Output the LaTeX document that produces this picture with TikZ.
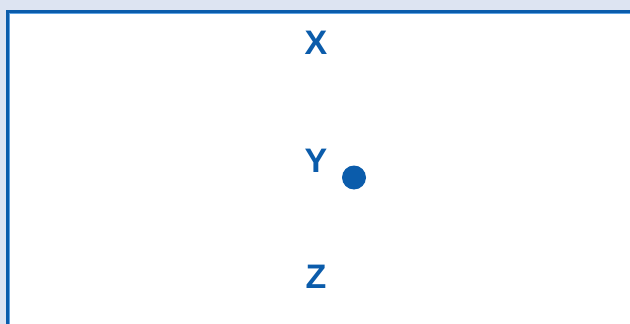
\documentclass[tikz,border=0pt]{standalone}
\usepackage{fontspec}
\setmainfont{Liberation Sans}
\definecolor{bg}{HTML}{DDE4F2}
\definecolor{mainblue}{HTML}{0B5CAB}
\definecolor{lightblue}{HTML}{5FA3E3}
\begin{document}
\begin{tikzpicture}[x=1pt,y=-1pt,
  lbl/.style={anchor=base,inner sep=0pt,text=mainblue,font=\fontsize{34}{34}\selectfont\bfseries}]
\useasboundingbox (0,0) rectangle (630,324);
\fill[bg] (0,0) rectangle (630,324);
\fill[white] (6,10) rectangle (640,334);
\draw[lightblue,line width=1pt] (9.5,340) -- (9.5,13.5) -- (640,13.5);
\draw[mainblue,line width=3pt] (7.5,340) -- (7.5,11.5) -- (640,11.5);
\node[lbl] (x) at (316,54) {X};
\node[lbl] (y) at (316,172) {Y};
\node[lbl] (z) at (316,288) {Z};
\fill[mainblue] (354,177.5) circle (12);
\end{tikzpicture}
\end{document}
